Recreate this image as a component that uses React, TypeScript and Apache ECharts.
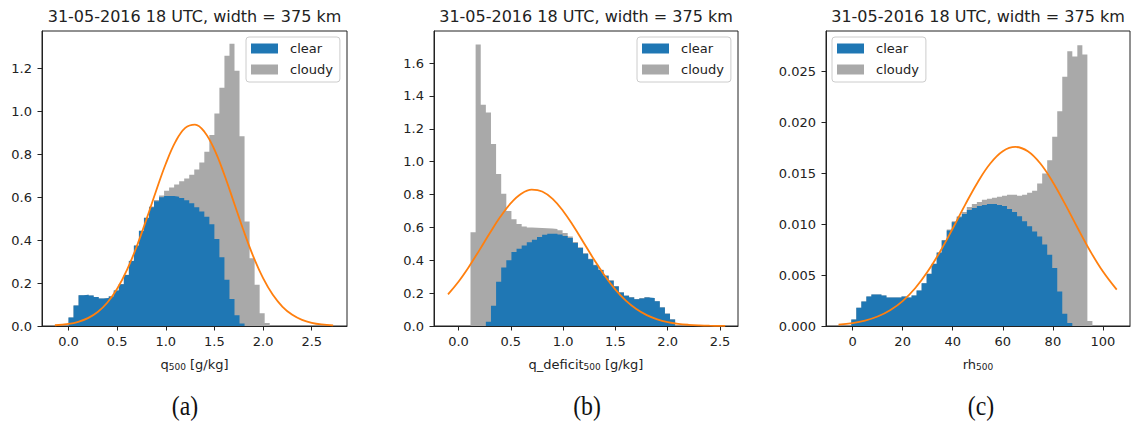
import React, { useEffect, useRef } from 'react';
import * as echarts from 'echarts';

// ---------- text ----------
const panelTitle = '31-05-2016 18 UTC, width = 375 km';
const legendNames = ['clear', 'cloudy'];
const captions = ['(a)', '(b)', '(c)'];

// ---------- panel (a): q500 [g/kg] ----------
const qBinStart = 0;
const qBinWidth = 0.0517;
const qClear = [0.04, 0.095, 0.143, 0.146, 0.142, 0.135, 0.128, 0.131, 0.138, 0.165,
  0.195, 0.238, 0.303, 0.374, 0.443, 0.503, 0.554, 0.582, 0.6, 0.606,
  0.606, 0.603, 0.597, 0.586, 0.572, 0.554, 0.534, 0.509, 0.474, 0.405,
  0.32, 0.215, 0.126, 0.05, 0.012, 0, 0, 0, 0, 0];
const qCloudy = [0, 0, 0, 0, 0, 0, 0, 0, 0.001, 0.001,
  0.001, 0.001, 0.001, 0.002, 0.002, 0.003, 0.003, 0.005, 0.008, 0.024,
  0.039, 0.057, 0.078, 0.102, 0.133, 0.176, 0.228, 0.303, 0.416, 0.585,
  0.79, 1.045, 1.19, 1.14, 0.873, 0.487, 0.316, 0.192, 0.06, 0.014];
const qFitX = [-0.14, 0.0, 0.1, 0.2, 0.3, 0.4, 0.5, 0.6, 0.7, 0.8, 0.9, 1.0, 1.1, 1.2, 1.3,
  1.4, 1.5, 1.6, 1.7, 1.8, 1.9, 2.0, 2.1, 2.2, 2.3, 2.4, 2.5, 2.6, 2.72];
const qFitY = [0.0035, 0.01, 0.0197, 0.0369, 0.0653, 0.1095, 0.1736, 0.2604, 0.3694, 0.4958,
  0.6295, 0.7562, 0.8591, 0.9235, 0.939, 0.9032, 0.8219, 0.7075, 0.576, 0.4437,
  0.3234, 0.2229, 0.1453, 0.0897, 0.0523, 0.0289, 0.0151, 0.0075, 0.003];
const qTicksX = [0, 0.5, 1.0, 1.5, 2.0, 2.5];
const qTicksY = [0, 0.2, 0.4, 0.6, 0.8, 1.0, 1.2];

// ---------- panel (b): q_deficit500 [g/kg] ----------
const dBinStart = 0.115;
const dBinWidth = 0.0489;
const dClear = [0, 0, 0, 0.026, 0.123, 0.269, 0.356, 0.4, 0.45, 0.47,
  0.49, 0.51, 0.525, 0.541, 0.555, 0.561, 0.562, 0.557, 0.548, 0.535,
  0.505, 0.475, 0.44, 0.406, 0.37, 0.34, 0.305, 0.275, 0.24, 0.204,
  0.184, 0.174, 0.163, 0.168, 0.174, 0.17, 0.15, 0.113, 0.075, 0.04];
const dCloudy = [0.57, 1.713, 1.347, 1.273, 0.984, 0.656, 0.448, 0.3, 0.2, 0.15,
  0.115, 0.09, 0.073, 0.056, 0.04, 0.032, 0.028, 0.025, 0.018, 0.01,
  0.006, 0.004, 0.003, 0.003, 0.003, 0.003, 0.003, 0.003, 0.003, 0.002,
  0.002, 0.002, 0.002, 0.002, 0.002, 0.001, 0.001, 0.001, 0.001, 0.001];
const dFitX = [-0.1, 0.0, 0.1, 0.2, 0.3, 0.4, 0.5, 0.6, 0.7, 0.8, 0.9, 1.0, 1.1, 1.2,
  1.3, 1.4, 1.5, 1.6, 1.7, 1.8, 1.9, 2.0, 2.1, 2.2, 2.3, 2.4, 2.55];
const dFitY = [0.193, 0.2695, 0.3604, 0.4616, 0.566, 0.6646, 0.7472, 0.8044, 0.8293, 0.8185,
  0.7736, 0.7002, 0.6067, 0.5034, 0.4, 0.3043, 0.2217, 0.1546, 0.1032, 0.066,
  0.0405, 0.0237, 0.0133, 0.0072, 0.0037, 0.0018, 0.0006];
const dTicksX = [0, 0.5, 1.0, 1.5, 2.0, 2.5];
const dTicksY = [0, 0.2, 0.4, 0.6, 0.8, 1.0, 1.2, 1.4, 1.6];

// ---------- panel (c): rh500 ----------
const rBinStart = -0.5;
const rBinWidth = 2.006;
const rClear = [0.00065, 0.0018, 0.0024, 0.0029, 0.0031, 0.0031, 0.003, 0.0028, 0.0028, 0.0028,
  0.0029, 0.0028, 0.003, 0.0035, 0.0042, 0.0051, 0.0061, 0.0072, 0.0084, 0.0094,
  0.0102, 0.0107, 0.011, 0.0114, 0.0116, 0.0118, 0.0119, 0.012, 0.012, 0.0119,
  0.0118, 0.0115, 0.0112, 0.0108, 0.0103, 0.0098, 0.0093, 0.0088, 0.008, 0.007,
  0.0057, 0.0034, 0.0012, 0.0003, 0, 0, 0, 0];
const rCloudy = [0, 0, 0, 0, 0, 0, 0, 0, 0, 0,
  0, 0, 0, 0, 0, 0.00005, 0.00005, 0.00005, 0.00006, 0.00008,
  0.0001, 0.0001, 0.0002, 0.0003, 0.0004, 0.0004, 0.0005, 0.0005, 0.0006, 0.0008,
  0.001, 0.0014, 0.0017, 0.002, 0.0026, 0.0033, 0.004, 0.0052, 0.007, 0.0093,
  0.0129, 0.0177, 0.0233, 0.0267, 0.0265, 0.0276, 0.0267, 0.0005];
const rFitX = [-5.6, 0, 5, 10, 15, 20, 25, 30, 35, 40, 45, 50, 55, 60, 65,
  70, 75, 80, 85, 90, 95, 100, 105.5];
const rFitY = [0.00014, 0.00029, 0.00053, 0.00093, 0.00155, 0.00245, 0.00371, 0.00535, 0.00733, 0.00958,
  0.01193, 0.01414, 0.01597, 0.01718, 0.0176, 0.01718, 0.01597, 0.01414, 0.01193, 0.00958,
  0.00733, 0.00535, 0.00357];
const rTicksX = [0, 20, 40, 60, 80, 100];
const rTicksY = [0, 0.005, 0.01, 0.015, 0.02, 0.025];

// ---------- styling ----------
const FONT = 'DejaVu Sans';
const INK = '#222222';
const BLUE = '#1f77b4';
const GRAY = '#a9a9a9';
const ORANGE = '#ff7f0e';

function stepPoints(start: number, width: number, heights: number[]) {
  const pts = heights.map((h, i) => [start + i * width, h]);
  pts.push([start + heights.length * width, heights[heights.length - 1]]);
  return pts;
}

type PanelCfg = {
  binStart: number; binWidth: number; clear: number[]; cloudy: number[];
  fitX: number[]; fitY: number[]; ticksX: number[]; ticksY: number[];
  xMin: number; xMax: number; yMax: number; yDec: number; xDec: number;
  name: string; grid: { left: number; width: number }; legendLeft: number;
};

const panels: PanelCfg[] = [
  {
    binStart: qBinStart, binWidth: qBinWidth, clear: qClear, cloudy: qCloudy,
    fitX: qFitX, fitY: qFitY, ticksX: qTicksX, ticksY: qTicksY,
    xMin: -0.2725, xMax: 2.8625, yMax: 1.375, yDec: 1, xDec: 1,
    name: '{n|q}{s|500}{n| [g/kg]}', grid: { left: 42, width: 305 }, legendLeft: 246,
  },
  {
    binStart: dBinStart, binWidth: dBinWidth, clear: dClear, cloudy: dCloudy,
    fitX: dFitX, fitY: dFitY, ticksX: dTicksX, ticksY: dTicksY,
    xMin: -0.234, xMax: 2.672, yMax: 1.795, yDec: 1, xDec: 1,
    name: '{n|q_deficit}{s|500}{n| [g/kg]}', grid: { left: 434, width: 304 }, legendLeft: 637,
  },
  {
    binStart: rBinStart, binWidth: rBinWidth, clear: rClear, cloudy: rCloudy,
    fitX: rFitX, fitY: rFitY, ticksX: rTicksX, ticksY: rTicksY,
    xMin: -10.6, xMax: 110.8, yMax: 0.029, yDec: 3, xDec: 0,
    name: '{n|rh}{s|500}', grid: { left: 826, width: 304 }, legendLeft: 832,
  },
];

const GRID_TOP = 31;
const GRID_H = 295;

function buildOption() {
  const grid: any[] = [];
  const xAxis: any[] = [];
  const yAxis: any[] = [];
  const series: any[] = [];
  const legend: any[] = [];
  const graphic: any[] = [];

  panels.forEach((p, i) => {
    grid.push({
      left: p.grid.left, top: GRID_TOP, width: p.grid.width, height: GRID_H,
      show: true, borderColor: INK, borderWidth: 1, backgroundColor: 'transparent',
    });
    const labelStyle = { fontFamily: FONT, fontSize: 13, color: INK };
    xAxis.push({
      type: 'value', gridIndex: i, min: p.xMin, max: p.xMax,
      splitLine: { show: false },
      axisLine: { show: true, onZero: false, lineStyle: { color: INK, width: 1 } },
      axisTick: { show: true, customValues: p.ticksX, length: 4.5, lineStyle: { color: INK, width: 1 } },
      axisLabel: { ...labelStyle, customValues: p.ticksX, margin: 9, formatter: (v: number) => v.toFixed(p.xDec) },
      name: p.name, nameLocation: 'middle', nameGap: 27,
      nameTextStyle: {
        fontFamily: FONT, fontSize: 13, color: INK,
        rich: {
          n: { fontFamily: FONT, fontSize: 13, color: INK, lineHeight: 18, verticalAlign: 'bottom' },
          s: { fontFamily: FONT, fontSize: 9, color: INK, lineHeight: 9, verticalAlign: 'bottom' },
        },
      },
    });
    yAxis.push({
      type: 'value', gridIndex: i, min: 0, max: p.yMax,
      splitLine: { show: false },
      axisLine: { show: true, onZero: false, lineStyle: { color: INK, width: 1 } },
      axisTick: { show: true, customValues: p.ticksY, length: 4.5, lineStyle: { color: INK, width: 1 } },
      axisLabel: { ...labelStyle, customValues: p.ticksY, margin: 10, formatter: (v: number) => v.toFixed(p.yDec) },
    });
    const totals = p.clear.map((c, k) => c + p.cloudy[k]);
    series.push({
      type: 'line', name: 'cloudy', xAxisIndex: i, yAxisIndex: i,
      data: stepPoints(p.binStart, p.binWidth, totals), step: 'end',
      symbol: 'none', showSymbol: false, silent: true, color: GRAY,
      itemStyle: { color: GRAY }, lineStyle: { width: 0, opacity: 0 },
      areaStyle: { color: GRAY, opacity: 1 },
    });
    series.push({
      type: 'line', name: 'clear', xAxisIndex: i, yAxisIndex: i,
      data: stepPoints(p.binStart, p.binWidth, p.clear), step: 'end',
      symbol: 'none', showSymbol: false, silent: true, color: BLUE,
      itemStyle: { color: BLUE }, lineStyle: { width: 0, opacity: 0 },
      areaStyle: { color: BLUE, opacity: 1 },
    });
    series.push({
      type: 'line', name: 'fit', xAxisIndex: i, yAxisIndex: i,
      data: p.fitX.map((x, k) => [x, p.fitY[k]]), smooth: 0.4,
      symbol: 'none', showSymbol: false, silent: true, color: ORANGE,
      lineStyle: { color: ORANGE, width: 1.8 },
    });
    legend.push({
      data: legendNames, left: p.legendLeft, top: 37, orient: 'vertical',
      icon: 'rect', itemWidth: 27, itemHeight: 10, itemGap: 8,
      padding: [5, 7, 6, 5], borderColor: '#cccccc', borderWidth: 1, borderRadius: 3,
      backgroundColor: 'rgba(255,255,255,0.8)', selectedMode: false,
      itemStyle: { borderWidth: 0 },
      textStyle: { fontFamily: FONT, fontSize: 13, color: INK, padding: [0, 0, 0, 7] },
    });
    const cx = p.grid.left + p.grid.width / 2;
    graphic.push({
      type: 'text', x: cx, y: 16,
      style: {
        text: panelTitle, font: `16px "${FONT}"`, fill: INK,
        textAlign: 'center', textVerticalAlign: 'middle', align: 'center', verticalAlign: 'middle',
      },
    });
  });

  const capX = [185, 587, 981];
  captions.forEach((c, i) => {
    graphic.push({
      type: 'text', x: capX[i], y: 406, scaleX: 0.88,
      style: {
        text: c, font: '27px "Liberation Serif"', fill: '#111',
        textAlign: 'center', textVerticalAlign: 'middle', align: 'center', verticalAlign: 'middle',
      },
    });
  });

  return { animation: false, backgroundColor: '#ffffff', grid, xAxis, yAxis, series, legend, graphic };
}

export default function App() {
  const ref = useRef<HTMLDivElement>(null);
  useEffect(() => {
    if (!ref.current) return;
    const chart = echarts.init(ref.current, undefined, { renderer: 'svg' });
    chart.setOption(buildOption() as any);
    return () => chart.dispose();
  }, []);
  return (
    <div
      ref={ref}
      style={{ position: 'fixed', left: 0, top: 0, width: 1131, height: 426, background: '#fff' }}
    />
  );
}
